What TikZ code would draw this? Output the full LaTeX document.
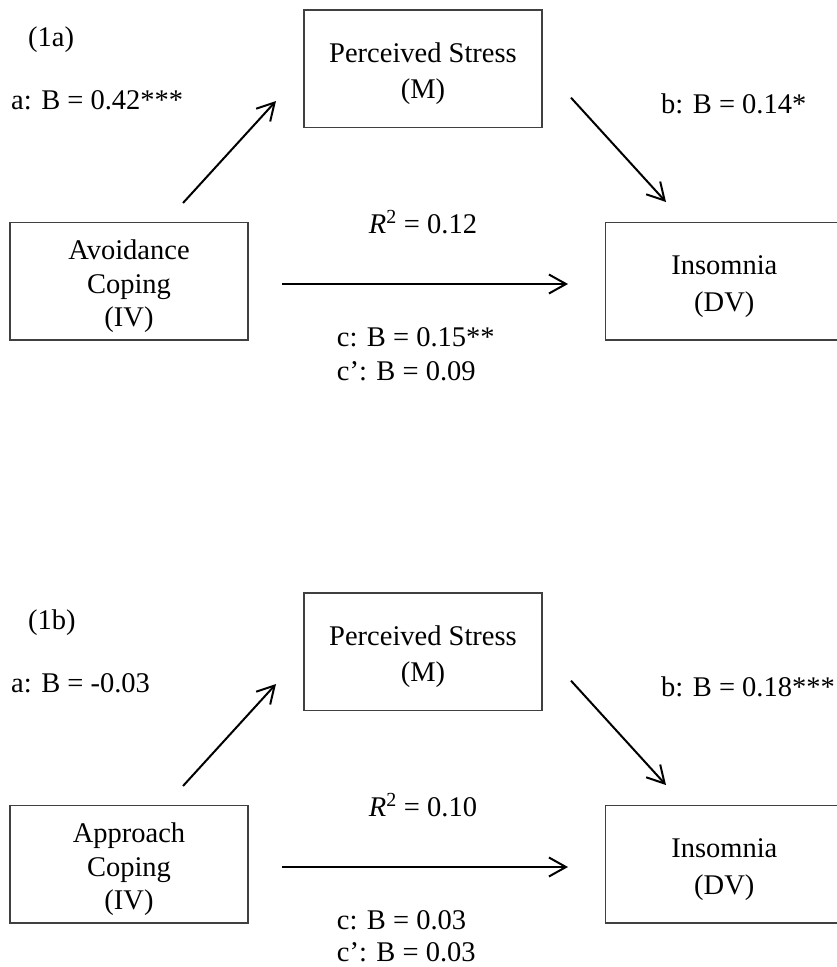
\documentclass[tikz,border=0pt]{standalone}
\usepackage{fontspec}
\setmainfont{Liberation Serif}
\usetikzlibrary{arrows.meta}
\newcommand\dfont{\fontsize{28.5}{33.3}\selectfont}
\newcommand\topstrut{\rule{0pt}{29.5pt}}
\begin{document}
\begin{tikzpicture}[x=1pt,y=-1pt,
  box/.style={draw=black!75, line width=1.3pt, rectangle, inner sep=0pt,
    minimum width=238pt, minimum height=117.3pt, align=center, font=\dfont},
  lbl/.style={inner sep=0pt, font=\dfont, anchor=base west},
  clbl/.style={inner sep=0pt, font=\dfont, anchor=base},
  arr/.style={line width=2pt, -{Straight Barb[length=17pt,width=19pt,line width=2pt]}}
]
\useasboundingbox (0,0) rectangle (837,967);
% ---------- panel (1a)
\node[box] (iv1) at (129,281.3) {\topstrut Avoidance\\Coping\\(IV)};
\node[box] (m1) at (423,68.7) {\topstrut Perceived Stress\\[3.4pt](M)};
\node[box] (dv1) at (724.3,281.3) {\topstrut Insomnia\\[3.4pt](DV)};
\node[lbl] (t1) at (28,46.5) {(1a)};
\node[lbl] (a1) at (11,109.3) {a: B = 0.42***};
\node[lbl] (b1) at (661,113) {b: B = 0.14*};
\node[clbl] (r1) at (423,233) {\textit{R}\textsuperscript{2} = 0.12};
\node[lbl] (c1) at (336.7,346.7) {c: B = 0.15**};
\node[lbl] (cp1) at (336.7,380) {c’: B = 0.09};
\coordinate (a1s) at (183,203);
\coordinate (a1e) at (276,101);
\coordinate (b1s) at (571,97.7);
\coordinate (b1e) at (666,202);
\coordinate (c1s) at (282,284);
\coordinate (c1e) at (568,284);
\draw[arr] (a1s) -- (a1e);
\draw[arr] (b1s) -- (b1e);
\draw[arr] (c1s) -- (c1e);
% ---------- panel (1b)
\begin{scope}[yshift=-583pt]
\node[box] (iv2) at (129,281.3) {\topstrut Approach\\Coping\\(IV)};
\node[box] (m2) at (423,68.7) {\topstrut Perceived Stress\\[3.4pt](M)};
\node[box] (dv2) at (724.3,281.3) {\topstrut Insomnia\\[3.4pt](DV)};
\node[lbl] (t2) at (28,46.5) {(1b)};
\node[lbl] (a2) at (11,109.3) {a: B = -0.03};
\node[lbl] (b2) at (661,113) {b: B = 0.18***};
\node[clbl] (r2) at (423,233) {\textit{R}\textsuperscript{2} = 0.10};
\node[lbl] (c2) at (336.7,346.7) {c: B = 0.03};
\node[lbl] (cp2) at (336.7,378) {c’: B = 0.03};
\coordinate (a2s) at (183,203);
\coordinate (a2e) at (276,101);
\coordinate (b2s) at (571,97.7);
\coordinate (b2e) at (666,202);
\coordinate (c2s) at (282,284);
\coordinate (c2e) at (568,284);
\draw[arr] (a2s) -- (a2e);
\draw[arr] (b2s) -- (b2e);
\draw[arr] (c2s) -- (c2e);
\end{scope}
\end{tikzpicture}
\end{document}
